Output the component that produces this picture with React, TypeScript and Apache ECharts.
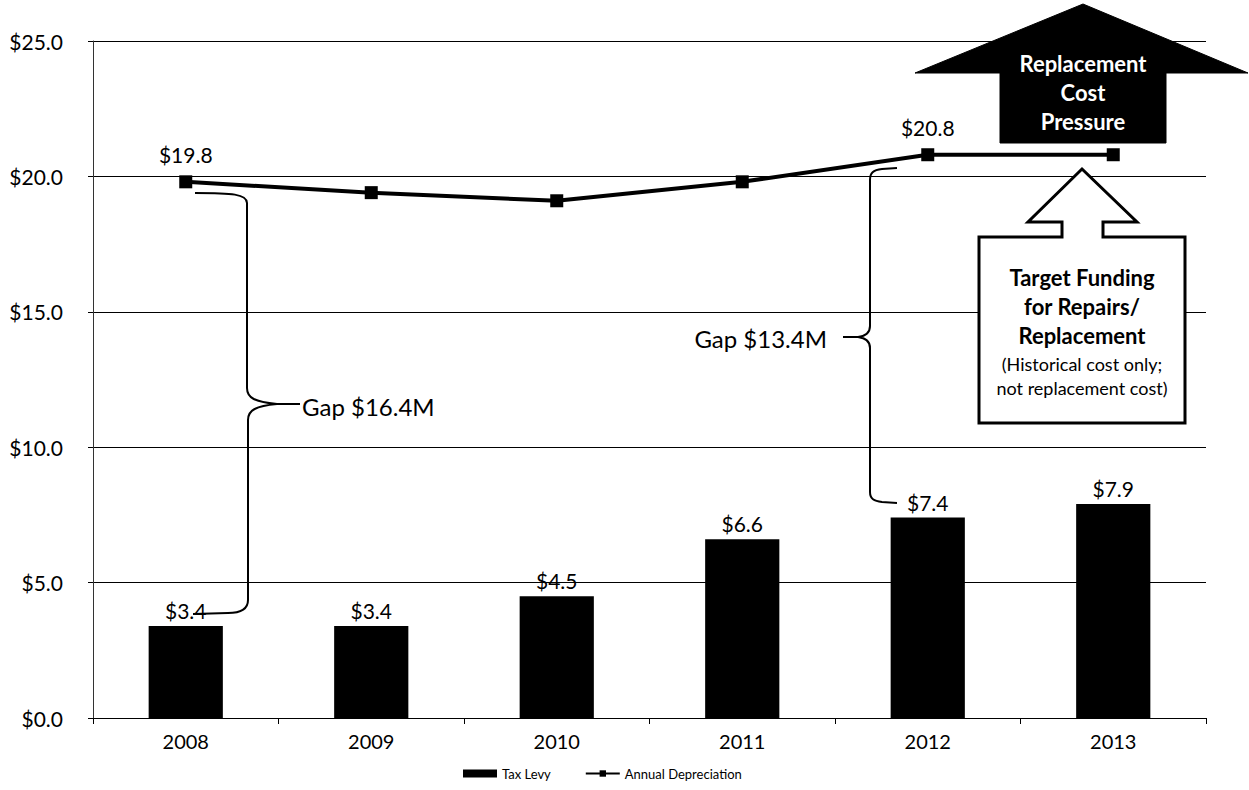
import React, { useEffect, useRef } from "react";
import * as echarts from "echarts";

const years = ["2008", "2009", "2010", "2011", "2012", "2013"];
const taxLevy = [3.4, 3.4, 4.5, 6.6, 7.4, 7.9];
const annualDepreciation = [19.8, 19.4, 19.1, 19.8, 20.8, 20.8];
const labeledLinePoints = [0, 4];
const yTicks = { min: 0, max: 25, interval: 5 };

const FONT = "Lato, 'Noto Sans', sans-serif";

const brace1 =
  "M195 193 C232 193 247 194 247 203 L247 388 C247 398 255 402 277 404 L300 404 M277 404 C256 406 248 410 248 420 L248 600 C248 610 240 613 228 613 L193 614";
const brace2 =
  "M897 168 L882 169 C873 170 870 173 870 180 L870 326 C870 333 866 336 858 337 L843 337 M858 337 C866 338 870 341 870 348 L870 492 C870 499 874 501 882 502 L897 503";

echarts.graphic.registerShape("brace1", echarts.graphic.extendPath(brace1, {}));
echarts.graphic.registerShape("brace2", echarts.graphic.extendPath(brace2, {}));

export default function App() {
  const ref = useRef<HTMLDivElement>(null);
  useEffect(() => {
    document.body.style.margin = "0";
    const chart = echarts.init(ref.current!, null, { renderer: "svg" });
    const money = (v: number) => "$" + v.toFixed(1);
    chart.setOption({
      animation: false,
      backgroundColor: "#ffffff",
      textStyle: { fontFamily: FONT },
      grid: { left: 93, right: 43, top: 41, bottom: 72 },
      legend: {
        bottom: 5,
        left: 458,
        itemGap: 34,
        textStyle: { fontSize: 13, color: "#000", fontFamily: FONT },
        data: [
          { name: "Tax Levy", icon: "rect", itemStyle: { color: "#000" } },
          { name: "Annual Depreciation" },
        ],
        itemWidth: 34,
        itemHeight: 8,
      },
      xAxis: {
        type: "category",
        data: years,
        axisLine: { lineStyle: { color: "#000", width: 1 } },
        axisTick: { show: true, length: 6, lineStyle: { color: "#000" } },
        axisLabel: { color: "#000", fontSize: 20, margin: 13, fontFamily: FONT },
      },
      yAxis: {
        type: "value",
        min: yTicks.min,
        max: yTicks.max,
        interval: yTicks.interval,
        axisLine: { show: true, lineStyle: { color: "#333", width: 1 } },
        axisTick: { show: true, length: 5, lineStyle: { color: "#000" } },
        splitLine: { lineStyle: { color: "#000", width: 1 } },
        axisLabel: {
          color: "#000",
          fontSize: 21,
          margin: 30,
          fontFamily: FONT,
          formatter: (v: number) => money(v),
        },
      },
      series: [
        {
          name: "Tax Levy",
          type: "bar",
          data: taxLevy,
          barWidth: "40%",
          itemStyle: { color: "#000" },
          label: {
            show: true,
            position: "top",
            distance: 5,
            color: "#000",
            fontSize: 21,
            fontFamily: FONT,
            formatter: (p: any) => money(p.value),
          },
        },
        {
          name: "Annual Depreciation",
          type: "line",
          data: annualDepreciation.map((v, i) => ({
            value: v,
            label: { show: labeledLinePoints.includes(i) },
          })),
          symbol: "rect",
          symbolSize: 13,
          lineStyle: { color: "#000", width: 4 },
          itemStyle: { color: "#000" },
          label: {
            position: "top",
            distance: 10,
            color: "#000",
            fontSize: 21,
            fontFamily: FONT,
            formatter: (p: any) => money(p.value),
          },
          z: 5,
        },
      ],
      graphic: [
        {
          type: "brace1",
          x: 0,
          y: 0,
          style: { fill: "none", stroke: "#000", lineWidth: 2 },
          z: 10,
        },
        {
          type: "brace2",
          x: 0,
          y: 0,
          style: { fill: "none", stroke: "#000", lineWidth: 2 },
          z: 10,
        },
        {
          type: "text",
          x: 302,
          y: 406,
          style: {
            text: "Gap $16.4M",
            font: `24px ${FONT}`,
            fill: "#000",
            verticalAlign: "middle",
          },
          z: 10,
        },
        {
          type: "text",
          x: 827,
          y: 338,
          style: {
            text: "Gap $13.4M",
            font: `24px ${FONT}`,
            fill: "#000",
            align: "right",
            verticalAlign: "middle",
          },
          z: 10,
        },
        {
          type: "polygon",
          shape: {
            points: [
              [1083, 4],
              [1248, 73],
              [1166, 73],
              [1166, 143],
              [1000, 143],
              [1000, 73],
              [915, 73],
            ],
          },
          style: { fill: "#000", stroke: "#000" },
          z: 10,
        },
        {
          type: "text",
          x: 1083,
          y: 92,
          style: {
            text: "Replacement\nCost\nPressure",
            font: `bold 22px ${FONT}`,
            fill: "#fff",
            align: "center",
            verticalAlign: "middle",
            lineHeight: 29,
          },
          z: 11,
        },
        {
          type: "polygon",
          shape: {
            points: [
              [1082, 169],
              [1137, 222],
              [1103, 222],
              [1103, 237],
              [1185, 237],
              [1185, 423],
              [979, 423],
              [979, 237],
              [1062, 237],
              [1062, 222],
              [1028, 222],
            ],
          },
          style: { fill: "#fff", stroke: "#000", lineWidth: 3 },
          z: 10,
        },
        {
          type: "text",
          x: 1082,
          y: 306,
          style: {
            text: "Target Funding\nfor Repairs/\nReplacement",
            font: `bold 22px ${FONT}`,
            fill: "#000",
            align: "center",
            verticalAlign: "middle",
            lineHeight: 29,
          },
          z: 11,
        },
        {
          type: "text",
          x: 1082,
          y: 376,
          style: {
            text: "(Historical cost only;\nnot replacement cost)",
            font: `18px ${FONT}`,
            fill: "#000",
            align: "center",
            verticalAlign: "middle",
            lineHeight: 24,
          },
          z: 11,
        },
      ],
    });
    return () => chart.dispose();
  }, []);
  return <div ref={ref} style={{ width: 1249, height: 790 }} />;
}
